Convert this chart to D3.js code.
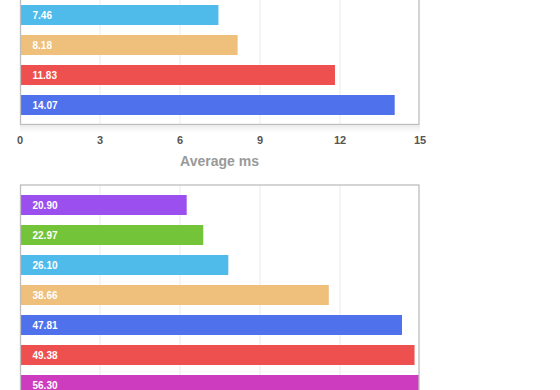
<!DOCTYPE html>
<html><head><meta charset="utf-8">
<script src="https://cdn.jsdelivr.net/npm/d3@7"></script>
<style>
html,body{margin:0;padding:0;background:#fff;overflow:hidden;}
svg{display:block;font-family:"Liberation Sans",Arial,Helvetica,sans-serif;}
</style></head>
<body>
<svg id="chart" width="560" height="390"></svg>
<script>
// Top panel (visible part)
const topCategories = ["A", "B", "C", "D"];
const topValues = [7.46, 8.18, 11.83, 14.07];
const topColors = ["#4fbbeb", "#eec07b", "#ee4f4f", "#4f71ec"];
const topTicks = [0, 3, 6, 9, 12, 15];
const topAxisTitle = "Average ms";

// Bottom panel
const bottomCategories = ["E", "F", "G", "H", "I", "J", "K"];
const bottomValues = [20.90, 22.97, 26.10, 38.66, 47.81, 49.38, 56.30];
const bottomColors = ["#9b4fee", "#74c43a", "#4fbbeb", "#eec07b", "#4f71ec", "#ee4f4f", "#cd3cbf"];
const bottomTicks = [0, 10, 20, 30, 40, 50];

const svg = d3.select("#chart");
const defs = svg.append("defs");
const grad = defs.append("linearGradient").attr("id", "shadow").attr("x1", 0).attr("y1", 0).attr("x2", 0).attr("y2", 1);
grad.append("stop").attr("offset", "0%").attr("stop-color", "#ececec");
grad.append("stop").attr("offset", "100%").attr("stop-color", "#ffffff");

function panel(opts) {
  const {cats, vals, cols, ticks, domainMax, y0, y1, bandRange, clipId, showAxis} = opts;
  const x = d3.scaleLinear().domain([0, domainMax]).range([19.5, 419.5]);
  const y = d3.scaleBand().domain(cats).range(bandRange).paddingInner(1/3).paddingOuter(1/3);
  const g = svg.append("g");

  defs.append("clipPath").attr("id", clipId).append("rect")
    .attr("x", 20.5).attr("y", y0).attr("width", 398.5).attr("height", y1 - y0);

  if (showAxis) {
    g.append("rect").attr("x", 20).attr("y", y1 + 1).attr("width", 400).attr("height", 7)
      .attr("fill", "url(#shadow)");
  }

  // gridlines
  g.append("g").selectAll("line").data(ticks.slice(1, -1)).join("line")
    .attr("x1", d => Math.round(x(d)) - 0.5 + 0.5).attr("x2", d => Math.round(x(d)) - 0.5 + 0.5)
    .attr("y1", y0).attr("y2", y1)
    .attr("stroke", "#ebebeb").attr("stroke-width", 1);

  const bars = g.append("g").attr("clip-path", `url(#${clipId})`);
  bars.selectAll("rect").data(cats).join("rect")
    .attr("x", x(0))
    .attr("y", d => y(d))
    .attr("width", (d, i) => x(vals[i]) - x(0))
    .attr("height", y.bandwidth())
    .attr("fill", (d, i) => cols[i]);

  bars.selectAll("text").data(cats).join("text")
    .attr("x", 32.5)
    .attr("y", d => y(d) + y.bandwidth() / 2 + 3.6)
    .attr("fill", "#fff")
    .attr("font-size", "10px")
    .attr("font-weight", "bold")
    .text((d, i) => vals[i].toFixed(2));

  // border
  g.append("rect").attr("x", 20.5).attr("y", y0).attr("width", 398.5).attr("height", y1 - y0)
    .attr("fill", "none").attr("stroke", "#bdbdbd").attr("stroke-width", 1.3);

  if (showAxis) {
    const axis = d3.axisBottom(x).tickValues(ticks).tickSize(0).tickPadding(0);
    const ag = g.append("g").attr("transform", `translate(0,${y1})`).call(axis);
    ag.select(".domain").remove();
    ag.selectAll("text")
      .attr("dy", null)
      .attr("y", 19.5)
      .attr("fill", "#555")
      .attr("font-size", "11px")
      .attr("font-weight", "bold")
      .attr("font-family", "\"Liberation Sans\",Arial,sans-serif");
    g.append("text")
      .attr("x", (x.range()[0] + x.range()[1]) / 2)
      .attr("y", y1 + 41)
      .attr("text-anchor", "middle")
      .attr("fill", "#999")
      .attr("font-size", "14px")
      .attr("font-weight", "bold")
      .text(topAxisTitle);
  }
}

panel({cats: topCategories, vals: topValues, cols: topColors, ticks: topTicks, domainMax: 15,
  y0: -20, y1: 124.5, bandRange: [-5, 125], clipId: "clipTop", showAxis: true});
panel({cats: bottomCategories, vals: bottomValues, cols: bottomColors, ticks: bottomTicks, domainMax: 50,
  y0: 185, y1: 420, bandRange: [185, 405], clipId: "clipBottom", showAxis: false});
</script>
</body></html>
